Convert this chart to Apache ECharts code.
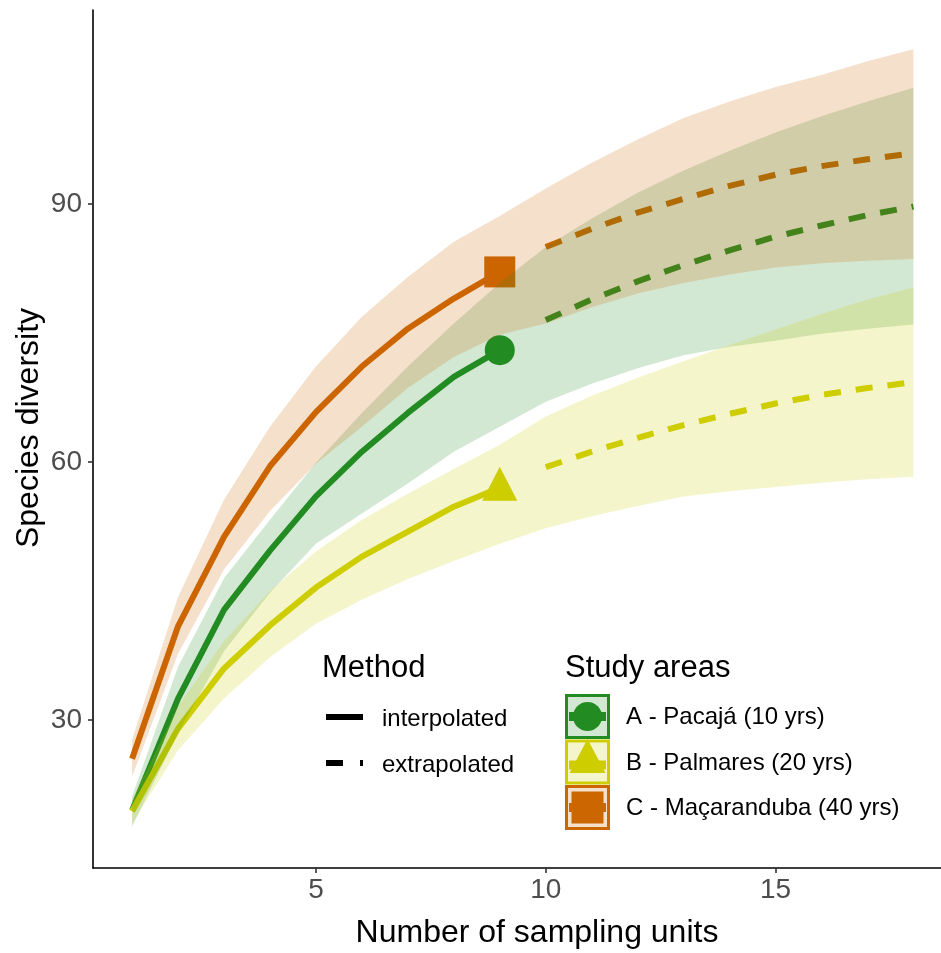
<!DOCTYPE html>
<html>
<head>
<meta charset="utf-8">
<script src="https://cdn.jsdelivr.net/npm/echarts@6/dist/echarts.min.js"></script>
<style>html,body{margin:0;padding:0;background:#fff}#chart{width:941px;height:953px}</style>
</head>
<body>
<div id="chart"></div>
<script>
// ---- data ----
const xInterp = [1, 2, 3, 4, 5, 6, 7, 8, 9];
const xExtrap = [10, 11, 12, 13, 14, 15, 16, 17, 18];
const xAll = [1, 2, 3, 4, 5, 6, 7, 8, 9, 10, 11, 12, 13, 14, 15, 16, 17, 18];

// A - Pacajá
const aInterp = [19.5, 32.5, 42.8, 49.7, 56.0, 61.2, 65.7, 69.9, 73.0];
const aExtrap = [76.5, 78.9, 81.0, 82.9, 84.6, 86.2, 87.5, 88.7, 89.7];
const aUpper = [21.1, 36.2, 46.5, 53.3, 59.9, 65.7, 71.1, 76.1, 80.8, 85.0, 88.3, 91.3, 93.9, 96.2, 98.3, 100.2, 101.9, 103.5];
const aLower = [17.6, 28.5, 38.0, 44.8, 50.5, 54.0, 57.5, 61.2, 64.1, 67.0, 69.1, 70.9, 72.4, 73.4, 74.1, 74.9, 75.5, 76.0];

// B - Palmares
const bInterp = [19.4, 29.0, 36.0, 41.0, 45.4, 49.0, 51.9, 54.8, 57.0];
const bExtrap = [59.4, 61.2, 62.8, 64.3, 65.6, 66.8, 67.8, 68.6, 69.3];
const bUpper = [20.7, 31.6, 39.2, 45.0, 49.6, 53.3, 56.3, 59.2, 62.0, 65.3, 67.7, 69.8, 71.7, 73.6, 75.4, 77.2, 78.9, 80.3];
const bLower = [18.0, 26.5, 32.5, 37.3, 41.2, 44.0, 46.4, 48.5, 50.5, 52.3, 53.7, 54.9, 56.0, 56.6, 57.1, 57.6, 58.0, 58.3];

// C - Maçaranduba
const cInterp = [25.5, 40.9, 51.3, 59.5, 65.8, 71.1, 75.5, 79.0, 82.1];
const cExtrap = [85.0, 87.1, 89.0, 90.6, 92.1, 93.4, 94.4, 95.2, 95.9];
const cUpper = [27.7, 44.3, 55.6, 64.1, 71.1, 76.9, 81.5, 85.6, 88.6, 91.8, 94.8, 97.5, 100.0, 101.9, 103.6, 105.0, 106.6, 108.0];
const cLower = [23.4, 37.7, 47.5, 54.3, 59.8, 64.1, 68.6, 72.2, 74.8, 76.1, 78.0, 79.6, 80.8, 81.8, 82.6, 83.1, 83.4, 83.6];

const xTicks = [5, 10, 15];
const yTicks = [30, 60, 90];

const groupNames = ['A - Pacajá (10 yrs)', 'B - Palmares (20 yrs)', 'C - Maçaranduba (40 yrs)'];
const methodNames = ['interpolated', 'extrapolated'];

// ---- styling ----
const colors = ['#228B22', '#CDCD00', '#CC6600'];
const fills = ['rgba(34,139,34,0.2)', 'rgba(205,205,0,0.2)', 'rgba(204,102,0,0.2)'];
const FONT = '"Liberation Sans", Arial, sans-serif';

const groups = [
  {interp: aInterp, extrap: aExtrap, upper: aUpper, lower: aLower, symbol: 'circle', size: 30, offset: [0, 0]},
  {interp: bInterp, extrap: bExtrap, upper: bUpper, lower: bLower, symbol: 'triangle', size: [35, 34], offset: [0, -4]},
  {interp: cInterp, extrap: cExtrap, upper: cUpper, lower: cLower, symbol: 'rect', size: 31, offset: [0, 0]}
];

const zip = (xs, ys) => xs.map((x, i) => [x, ys[i]]);

const series = [];
groups.forEach((g, gi) => {
  series.push({
    type: 'line', data: zip(xInterp, g.interp), showSymbol: false, symbol: 'none', z: 2,
    lineStyle: {color: colors[gi], width: 6, cap: 'butt', join: 'round'}, silent: true, animation: false
  });
  series.push({
    type: 'line', data: zip(xExtrap, g.extrap), showSymbol: false, symbol: 'none', z: 2,
    lineStyle: {color: colors[gi], width: 6, type: [17, 15], cap: 'butt'}, silent: true, animation: false
  });
  series.push({
    type: 'scatter', data: [[xInterp[xInterp.length - 1], g.interp[g.interp.length - 1]]], z: 3,
    symbol: g.symbol, symbolSize: g.size, symbolOffset: g.offset,
    itemStyle: {color: colors[gi], opacity: 1}, silent: true, animation: false
  });
});
groups.forEach((g, gi) => {
  series.push({
    type: 'custom', z: 4, silent: true, animation: false,
    data: [[xAll[0], g.lower[0]]],
    renderItem: function (params, api) {
      const pts = [];
      for (let i = 0; i < xAll.length; i++) pts.push(api.coord([xAll[i], g.upper[i]]));
      for (let i = xAll.length - 1; i >= 0; i--) pts.push(api.coord([xAll[i], g.lower[i]]));
      return {type: 'polygon', shape: {points: pts}, style: {fill: fills[gi], stroke: null}};
    }
  });
});

// ---- legend drawn as graphics ----
const graphic = [];
const lx = 326, ly = [717, 763], ty = [719, 765];
graphic.push({type: 'text', x: 322, y: 668, style: {text: 'Method', font: '31px ' + FONT, fill: '#000', verticalAlign: 'middle'}});
graphic.push({type: 'line', shape: {x1: lx, y1: ly[0], x2: lx + 37, y2: ly[0]}, style: {stroke: '#000', lineWidth: 6}});
graphic.push({type: 'line', shape: {x1: lx, y1: ly[1], x2: lx + 37, y2: ly[1]}, style: {stroke: '#000', lineWidth: 6, lineDash: [17, 17]}});
methodNames.forEach((m, i) => {
  graphic.push({type: 'text', x: 382, y: ty[i], style: {text: m, font: '24px ' + FONT, fill: '#000', verticalAlign: 'middle'}});
});
graphic.push({type: 'text', x: 565, y: 668, style: {text: 'Study areas', font: '31px ' + FONT, fill: '#000', verticalAlign: 'middle'}});
const bx = 565, bw = 45, bys = [694, 739.5, 785];
groupNames.forEach((name, i) => {
  const cy = bys[i] + bw / 2, cx = bx + bw / 2;
  graphic.push({type: 'rect', shape: {x: bx + 1.5, y: bys[i] + 1.5, width: bw - 3, height: bw - 3}, style: {fill: fills[i], stroke: colors[i], lineWidth: 3}});
  graphic.push({type: 'line', shape: {x1: bx + 4, y1: cy + (i === 1 ? 3 : 0), x2: bx + bw - 4, y2: cy + (i === 1 ? 3 : 0)}, style: {stroke: colors[i], lineWidth: 9}});
  if (i === 0) graphic.push({type: 'circle', shape: {cx: cx, cy: cy, r: 14.5}, style: {fill: colors[i]}});
  if (i === 1) graphic.push({type: 'polygon', shape: {points: [[cx, cy - 23], [cx - 18, cy + 11], [cx + 18, cy + 11]]}, style: {fill: colors[i]}});
  if (i === 2) graphic.push({type: 'rect', shape: {x: cx - 16, y: cy - 16, width: 32, height: 32}, style: {fill: colors[i]}});
  graphic.push({type: 'text', x: 626, y: cy + 1, style: {text: name, font: '24px ' + FONT, fill: '#000', verticalAlign: 'middle'}});
});
// axis titles
graphic.push({type: 'text', x: 537, y: 933, style: {text: 'Number of sampling units', font: '32px ' + FONT, fill: '#000', align: 'center', verticalAlign: 'middle'}});
graphic.push({type: 'text', x: 29, y: 428, rotation: Math.PI / 2, style: {text: 'Species diversity', font: '32px ' + FONT, fill: '#000', align: 'center', verticalAlign: 'middle'}});

const chart = echarts.init(document.getElementById('chart'), null, {renderer: 'canvas'});
chart.setOption({
  animation: false,
  backgroundColor: '#fff',
  grid: {left: 93, right: 0, top: 10, bottom: 85, containLabel: false},
  xAxis: {
    type: 'value', min: 0.15, max: 18.6,
    splitLine: {show: false},
    axisLine: {onZero: false, lineStyle: {color: '#000', width: 1.6}},
    axisTick: {customValues: xTicks, length: 5, lineStyle: {color: '#333', width: 1.6}},
    axisLabel: {customValues: xTicks, color: '#4D4D4D', fontSize: 28, fontFamily: FONT, margin: 8}
  },
  yAxis: {
    type: 'value', min: 12.8, max: 112.55,
    splitLine: {show: false},
    axisLine: {onZero: false, lineStyle: {color: '#000', width: 1.6}},
    axisTick: {customValues: yTicks, length: 5, lineStyle: {color: '#333', width: 1.6}},
    axisLabel: {customValues: yTicks, color: '#4D4D4D', fontSize: 28, fontFamily: FONT, margin: 11}
  },
  series: series,
  graphic: graphic
});
</script>
</body>
</html>
